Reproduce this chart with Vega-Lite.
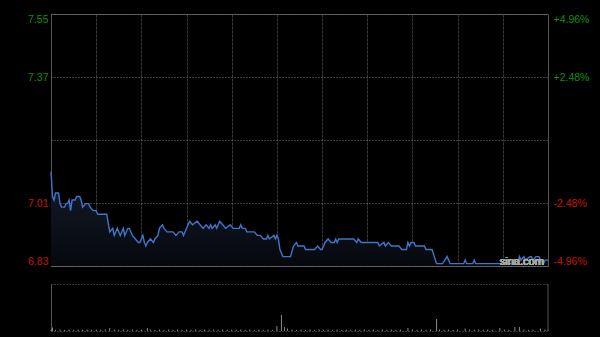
{
  "$schema": "https://vega.github.io/schema/vega-lite/v6.json",
  "background": "black",
  "padding": {"left": 27, "top": 13, "right": 10, "bottom": 5},
  "spacing": 15,
  "config": {"font": "Liberation Sans", "view": {"stroke": "#555555"}},
  "datasets": {
    "price": [
      {"t":0,"p":7.10},{"t":1,"p":7.03},{"t":2,"p":7.02},{"t":3,"p":7.04},{"t":5,"p":7.04},{"t":6,"p":7.01},{"t":7,"p":7.00},{"t":9,"p":7.00},{"t":10,"p":7.01},{"t":11,"p":7.01},{"t":12,"p":7.02},{"t":13,"p":6.99},{"t":14,"p":7.02},{"t":16,"p":7.02},{"t":17,"p":7.03},{"t":19,"p":7.03},{"t":20,"p":7.02},{"t":21,"p":7.00},{"t":23,"p":7.01},{"t":25,"p":7.01},{"t":26,"p":7.00},{"t":28,"p":6.99},{"t":30,"p":6.99},{"t":31,"p":6.98},{"t":37,"p":6.98},{"t":39,"p":6.93},{"t":41,"p":6.94},{"t":42,"p":6.92},{"t":44,"p":6.94},{"t":46,"p":6.92},{"t":48,"p":6.94},{"t":49,"p":6.92},{"t":51,"p":6.94},{"t":52,"p":6.94},{"t":54,"p":6.92},{"t":56,"p":6.91},{"t":58,"p":6.90},{"t":59,"p":6.90},{"t":61,"p":6.92},{"t":62,"p":6.90},{"t":63,"p":6.89},{"t":64,"p":6.90},{"t":66,"p":6.91},{"t":68,"p":6.90},{"t":69,"p":6.91},{"t":71,"p":6.92},{"t":72,"p":6.94},{"t":74,"p":6.95},{"t":75,"p":6.94},{"t":77,"p":6.93},{"t":81,"p":6.93},{"t":83,"p":6.92},{"t":85,"p":6.93},{"t":87,"p":6.93},{"t":88,"p":6.92},{"t":90,"p":6.94},{"t":92,"p":6.96},{"t":94,"p":6.95},{"t":97,"p":6.96},{"t":99,"p":6.95},{"t":101,"p":6.94},{"t":103,"p":6.95},{"t":105,"p":6.94},{"t":106,"p":6.95},{"t":107,"p":6.94},{"t":109,"p":6.95},{"t":110,"p":6.94},{"t":112,"p":6.96},{"t":114,"p":6.95},{"t":116,"p":6.94},{"t":119,"p":6.95},{"t":121,"p":6.94},{"t":125,"p":6.94},{"t":126,"p":6.95},{"t":127,"p":6.94},{"t":129,"p":6.94},{"t":130,"p":6.93},{"t":135,"p":6.93},{"t":137,"p":6.92},{"t":139,"p":6.92},{"t":141,"p":6.91},{"t":143,"p":6.91},{"t":144,"p":6.92},{"t":145,"p":6.91},{"t":148,"p":6.92},{"t":149,"p":6.91},{"t":150,"p":6.92},{"t":151,"p":6.91},{"t":152,"p":6.88},{"t":154,"p":6.86},{"t":159,"p":6.86},{"t":161,"p":6.89},{"t":163,"p":6.90},{"t":164,"p":6.89},{"t":168,"p":6.89},{"t":169,"p":6.88},{"t":175,"p":6.88},{"t":177,"p":6.89},{"t":179,"p":6.88},{"t":180,"p":6.88},{"t":182,"p":6.90},{"t":184,"p":6.91},{"t":186,"p":6.90},{"t":188,"p":6.90},{"t":189,"p":6.91},{"t":190,"p":6.90},{"t":191,"p":6.91},{"t":201,"p":6.91},{"t":203,"p":6.90},{"t":204,"p":6.91},{"t":206,"p":6.90},{"t":217,"p":6.90},{"t":218,"p":6.89},{"t":221,"p":6.90},{"t":222,"p":6.89},{"t":224,"p":6.90},{"t":226,"p":6.89},{"t":231,"p":6.89},{"t":233,"p":6.88},{"t":236,"p":6.88},{"t":237,"p":6.90},{"t":238,"p":6.89},{"t":239,"p":6.90},{"t":241,"p":6.90},{"t":242,"p":6.89},{"t":248,"p":6.89},{"t":249,"p":6.88},{"t":253,"p":6.88},{"t":256,"p":6.84},{"t":260,"p":6.84},{"t":263,"p":6.86},{"t":265,"p":6.84},{"t":274,"p":6.84},{"t":275,"p":6.85},{"t":276,"p":6.84},{"t":280,"p":6.84},{"t":281,"p":6.85},{"t":282,"p":6.84},{"t":310,"p":6.84},{"t":311,"p":6.86},{"t":312,"p":6.85},{"t":314,"p":6.86},{"t":315,"p":6.85},{"t":318,"p":6.86},{"t":319,"p":6.86},{"t":320,"p":6.85},{"t":322,"p":6.86},{"t":324,"p":6.86},{"t":325,"p":6.85},{"t":327,"p":6.84},{"t":328,"p":6.85},{"t":329,"p":6.85},{"t":330,"p":6.85}
    ],
    "volume": [
      {"t":0,"v":1.5},{"t":1,"v":3.5},{"t":3,"v":1.2},{"t":6,"v":1.5},{"t":9,"v":1.2},{"t":12,"v":1.5},{"t":15,"v":1.2},{"t":18,"v":1.5},{"t":21,"v":1.2},{"t":24,"v":1.5},{"t":27,"v":1.2},{"t":30,"v":1.5},{"t":33,"v":1.2},{"t":36,"v":1.5},{"t":39,"v":3},{"t":42,"v":1.5},{"t":45,"v":1.2},{"t":48,"v":1.5},{"t":51,"v":1.2},{"t":54,"v":1.5},{"t":57,"v":1.2},{"t":60,"v":1.5},{"t":64,"v":3},{"t":66,"v":1.5},{"t":69,"v":1.2},{"t":72,"v":1.5},{"t":75,"v":1.2},{"t":78,"v":1.5},{"t":81,"v":1.2},{"t":84,"v":1.5},{"t":87,"v":1.2},{"t":90,"v":1.5},{"t":93,"v":1.2},{"t":96,"v":1.5},{"t":99,"v":1.2},{"t":102,"v":1.5},{"t":105,"v":1.2},{"t":108,"v":1.5},{"t":111,"v":1.2},{"t":114,"v":1.5},{"t":117,"v":1.2},{"t":120,"v":1.5},{"t":123,"v":1.2},{"t":126,"v":1.5},{"t":129,"v":1.2},{"t":132,"v":1.5},{"t":135,"v":1.2},{"t":138,"v":1.5},{"t":141,"v":1.2},{"t":144,"v":1.5},{"t":147,"v":1.2},{"t":150,"v":5},{"t":153,"v":16},{"t":155,"v":4},{"t":157,"v":2.5},{"t":160,"v":1.5},{"t":163,"v":1.2},{"t":166,"v":1.5},{"t":169,"v":1.2},{"t":172,"v":1.5},{"t":175,"v":1.2},{"t":178,"v":1.5},{"t":181,"v":1.2},{"t":184,"v":1.5},{"t":187,"v":1.2},{"t":190,"v":1.5},{"t":193,"v":1.2},{"t":196,"v":1.5},{"t":199,"v":1.2},{"t":202,"v":1.5},{"t":205,"v":1.2},{"t":208,"v":1.5},{"t":211,"v":1.2},{"t":214,"v":1.5},{"t":217,"v":1.2},{"t":220,"v":1.5},{"t":223,"v":1.2},{"t":226,"v":1.5},{"t":229,"v":1.2},{"t":232,"v":1.5},{"t":237,"v":3},{"t":240,"v":1.5},{"t":243,"v":1.2},{"t":246,"v":1.5},{"t":249,"v":1.2},{"t":252,"v":1.5},{"t":256,"v":12},{"t":258,"v":1.5},{"t":261,"v":1.2},{"t":264,"v":1.5},{"t":267,"v":1.2},{"t":270,"v":1.5},{"t":275,"v":2.5},{"t":278,"v":1.5},{"t":281,"v":1.2},{"t":284,"v":1.5},{"t":287,"v":1.2},{"t":290,"v":1.5},{"t":293,"v":1.2},{"t":298,"v":3},{"t":301,"v":1.5},{"t":304,"v":1.2},{"t":308,"v":4},{"t":311,"v":4},{"t":314,"v":1.5},{"t":317,"v":1.2},{"t":320,"v":1.5},{"t":325,"v":2.5},{"t":328,"v":1.5},{"t":330,"v":1.2}
    ]
  },
  "vconcat": [
    {
      "width": 497,
      "height": 252,
      "layer": [
        {
          "data": {"name": "price"},
          "encoding": {
            "x": {"field": "t", "type": "quantitative",
                  "scale": {"domain": [0, 330], "nice": false, "zero": false},
                  "axis": {"values": [30,60,90,120,150,180,210,240,270,300], "labels": false, "ticks": false, "domain": false, "title": null, "grid": true, "gridColor": "#383838", "gridDash": [3,1], "gridWidth": 1}}
          },
          "layer": [
            {
              "mark": {"type": "area", "interpolate": "linear",
                       "fill": {"gradient": "linear", "x1": 0, "y1": 0, "x2": 0, "y2": 1,
                                "stops": [{"offset": 0, "color": "#141c2c"}, {"offset": 1, "color": "#06080c"}]}},
              "encoding": {
                "y": {"field": "p", "type": "quantitative",
                      "scale": {"domain": [6.8334, 7.5466], "nice": false, "zero": false},
                      "axis": {"values": [6.8334, 7.0117, 7.19, 7.3683, 7.5466],
                               "labelExpr": "abs(datum.value - 7.19) < 0.001 ? '' : format(datum.value, '.2f')",
                               "labelColor": {"condition": {"test": "datum.value > 7.19", "value": "#0c900c"}, "value": "#cc1111"},
                               "labelFont": "Liberation Sans", "labelFontSize": 10.5, "labelFlush": true, "labelPadding": 3,
                               "ticks": false, "domain": false, "title": null,
                               "grid": true, "gridColor": "#777777", "gridDash": [1,2], "gridWidth": 1}},
                "y2": {"datum": 6.8334}
              }
            },
            {
              "mark": {"type": "line", "color": "#3f76cc", "strokeWidth": 1.4, "interpolate": "linear"},
              "encoding": {"y": {"field": "p", "type": "quantitative"}}
            },
            {
              "mark": {"type": "text", "text": "sina.com", "color": "#aaaaaa", "opacity": 0.75, "fontSize": 11, "align": "left", "baseline": "alphabetic", "font": "Liberation Sans"},
              "encoding": {"x": {"datum": 298, "type": "quantitative"}, "y": {"datum": 6.836, "type": "quantitative"}}
            }
          ]
        },
        {
          "data": {"values": [{"k": 0}]},
          "mark": {"type": "rule", "opacity": 0},
          "encoding": {
            "y": {"datum": 0, "type": "quantitative",
                  "scale": {"domain": [-4.96, 4.96], "nice": false, "zero": false},
                  "axis": {"orient": "right", "values": [-4.96, -2.48, 2.48, 4.96],
                           "labelExpr": "(datum.value > 0 ? '+' : '-') + format(abs(datum.value), '.2f') + '%'",
                           "labelColor": {"condition": {"test": "datum.value > 0", "value": "#0c900c"}, "value": "#cc1111"},
                           "labelFont": "Liberation Sans", "labelFontSize": 10.5, "labelFlush": true, "labelPadding": 5,
                           "ticks": false, "domain": false, "grid": false, "title": null}}
          }
        }
      ],
      "resolve": {"scale": {"y": "independent"}}
    },
    {
      "width": 497,
      "height": 47,
      "view": {"stroke": null},
      "layer": [
        {
          "data": {"name": "volume"},
          "mark": {"type": "rule", "color": "#8a8a8a", "strokeWidth": 1},
          "encoding": {
            "x": {"field": "t", "type": "quantitative", "scale": {"domain": [0, 330], "nice": false, "zero": false}, "axis": null},
            "y": {"field": "v", "type": "quantitative",
                  "scale": {"domain": [0, 47], "nice": false},
                  "axis": {"values": [0, 23.5, 47], "labels": false, "ticks": false, "title": null,
                           "domain": true, "domainColor": "#555555",
                           "grid": true, "gridColor": "#6a6a6a", "gridDash": [1,2], "gridWidth": 1}},
            "y2": {"datum": 0}
          }
        },
        {
          "data": {"values": [{"k": 0}]},
          "mark": {"type": "rule", "color": "#555555", "strokeWidth": 1},
          "encoding": {
            "x": {"datum": 330, "type": "quantitative"},
            "y": {"datum": 0, "type": "quantitative"},
            "y2": {"datum": 47}
          }
        }
      ]
    }
  ]
}
